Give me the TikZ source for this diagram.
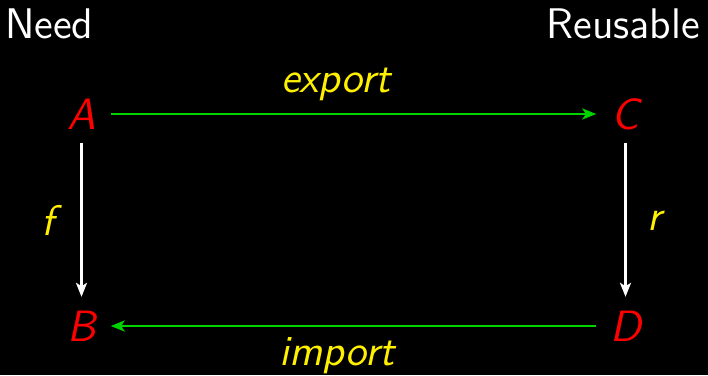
\documentclass[tikz,border=0pt]{standalone}
\usepackage{fontspec}
\setsansfont{lmsans12-regular.otf}[ItalicFont=lmsans12-oblique.otf]
\usetikzlibrary{arrows.meta}
\definecolor{arrgreen}{RGB}{0,210,0}
\definecolor{lblyellow}{RGB}{255,240,0}
\begin{document}
\begin{tikzpicture}[x=1bp,y=-1bp,
  every node/.style={font=\sffamily\fontsize{43}{50}\selectfont, inner sep=0pt},
  corner/.style={text=red, font=\sffamily\itshape\fontsize{44}{50}\selectfont, minimum width=58bp, minimum height=58bp},
  lbl/.style={text=lblyellow, font=\sffamily\itshape\fontsize{43}{50}\selectfont, anchor=base},
  title/.style={text=white},
  greenarrow/.style={draw=arrgreen, line width=2.6bp, -{Stealth[length=14bp,width=11bp,inset=3.5bp]}},
  whitearrow/.style={draw=white, line width=2.4bp, -{Stealth[length=14bp,width=11bp,inset=3.5bp]}}]
\fill[black] (0,0) rectangle (708,375);
\useasboundingbox (0,0) rectangle (708,375);
\node[title, anchor=base west] (need) at (5,38) {Need};
\node[title, anchor=base east] (reuse) at (700,38) {Reusable};
\node[corner] (A) at (81.5,114) {A};
\node[corner] (C) at (625.5,114) {C};
\node[corner] (B) at (81.5,326) {B};
\node[corner] (D) at (625.5,326) {D};
\draw[greenarrow] (A) -- (C);
\draw[greenarrow] (D) -- (B);
\draw[whitearrow] (A) -- (B);
\draw[whitearrow] (C) -- (D);
\node[lbl] (ex) at (336,92) {export};
\node[lbl] (im) at (337,365) {import};
\node[lbl] (f) at (48,235) {f};
\node[lbl] (r) at (655,230) {r};
\end{tikzpicture}
\end{document}
